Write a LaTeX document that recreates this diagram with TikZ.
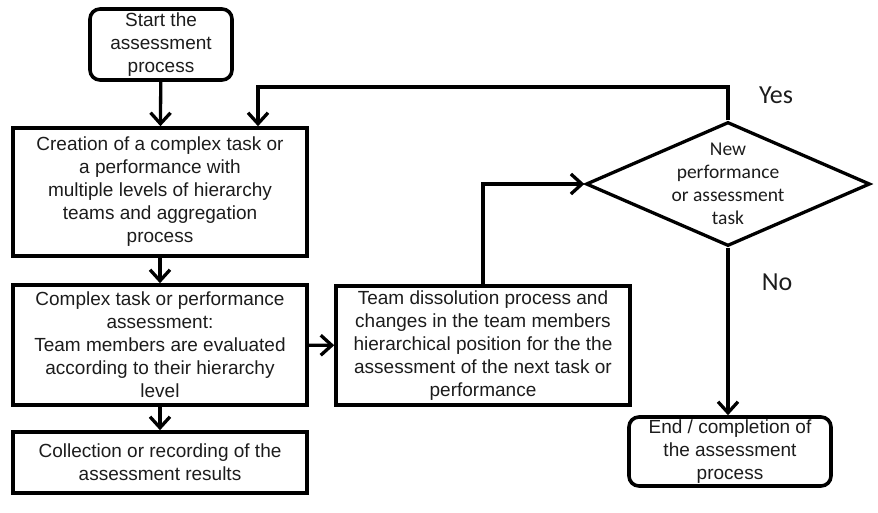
\documentclass[tikz,border=0pt]{standalone}
\usepackage{fontspec}
\setmainfont{Liberation Sans}
\newfontfamily\calibri{Carlito}
\usetikzlibrary{arrows.meta,positioning,shapes.geometric}
\definecolor{fcink}{HTML}{1C1C1C}

\begin{document}
\begin{tikzpicture}[x=1pt, y=-1pt,
  every node/.style={font=\fontsize{19}{23}\selectfont, text=fcink, align=center, inner sep=0pt},
  procbox/.style={draw=black, line width=3.6pt, minimum width=294pt},
  termbox/.style={draw=black, line width=3.6pt, rounded corners=10pt},
  decbox/.style={draw=black, line width=3.3pt, diamond, minimum width=284pt, minimum height=124pt},
  flow/.style={draw=black, line width=3.3pt, -{Straight Barb[length=11pt,width=20pt]}},
  answer/.style={font=\calibri\fontsize{26}{30}\selectfont}]

  % ---- Frame ----
  \useasboundingbox (0,0) rectangle (878,512);

  % ---- Left column ----
  \node[termbox, minimum width=142pt, minimum height=71pt] (start) at (161,44.5)
    {Start the\\assessment\\process};

  \node[procbox, minimum height=128pt] (create) at (160,192)
    {Creation of a complex task or\\
     a performance with\\
     multiple levels of hierarchy\\
     teams and aggregation\\
     process};

  \node[procbox, minimum height=120pt] (assess) at (160,345)
    {Complex task or performance\\
     assessment:\\
     Team members are evaluated\\
     according to their hierarchy\\
     level};

  \node[procbox, minimum height=61pt] (collect) at (160,462.5)
    {Collection or recording of the\\
     assessment results};

  % ---- Middle ----
  \node[procbox, minimum height=119pt] (dissolve) at (483,345.5)
    {Team dissolution process and\\
     changes in the team members\\
     hierarchical position for the the\\
     assessment of the next task or\\
     performance};

  % ---- Decision and end ----
  \node[decbox] (decide) at (728,184) {};
  \node[font=\calibri\fontsize{19.5}{23}\selectfont] (decidetext) at (decide.center)
    {New\\performance\\or assessment\\task};

  \node[termbox, minimum width=202pt, minimum height=69pt] (finish) at (730,451.5)
    {End / completion of\\the assessment\\process};

  \node[answer] (yes) at (776,95) {Yes};
  \node[answer] (no) at (777,282) {No};

  \coordinate (looptop) at (258,87);

  % ---- Connectors ----
  \draw[flow] (start) -- (create);
  \draw[flow] (create) -- (assess);
  \draw[flow] (assess) -- (collect);
  \draw[flow] (assess) -- (dissolve);
  \draw[flow] (dissolve.north) |- (decide.west);
  \draw[flow] (decide.north) |- (looptop) -- (looptop |- create.north);
  \draw[flow] (decide.south) -- (decide.south |- finish.north);

\end{tikzpicture}
\end{document}
